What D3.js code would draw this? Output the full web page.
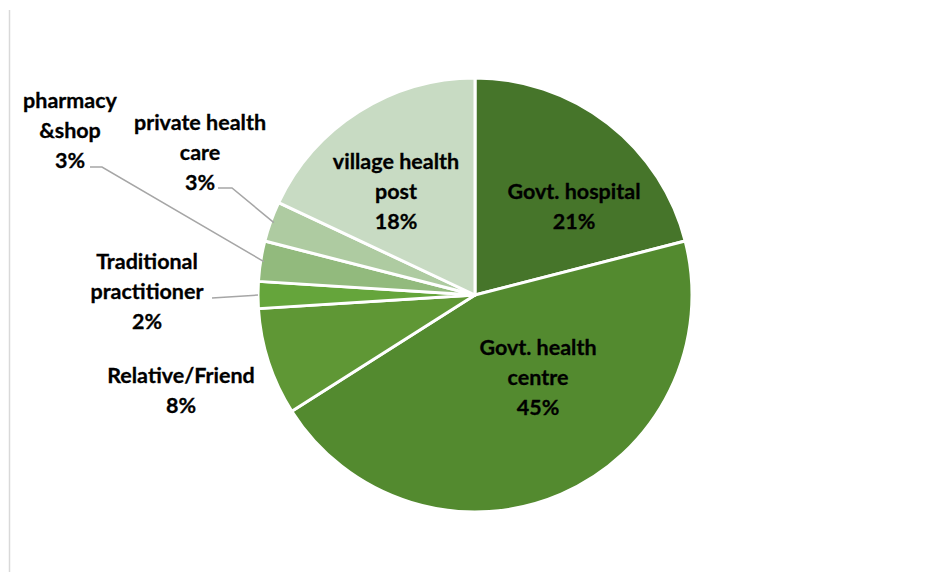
<!DOCTYPE html>
<html>
<head>
<meta charset="utf-8">
<script src="https://cdn.jsdelivr.net/npm/d3@7"></script>
<style>
  html, body { margin: 0; padding: 0; background: #fff; }
  svg text { font-family: Lato, "Open Sans", sans-serif; font-weight: 700; fill: #000; }
</style>
</head>
<body>
<svg id="chart" width="931" height="572"></svg>
<script>
// Source of care, share of respondents (%)
const categories = ["Govt. hospital", "Govt. health centre", "Relative/Friend",
  "Traditional practitioner", "pharmacy &shop", "private health care", "village health post"];
const values = [21, 45, 8, 2, 3, 3, 18];
const colors = ["#46752a", "#538a2f", "#5f9735", "#65a53b", "#92ba7d", "#aecba1", "#c8dbc3"];

// Label lines for each slice (text broken as displayed)
const labelLines = [
  ["Govt. hospital"],
  ["Govt. health", "centre"],
  ["Relative/Friend"],
  ["Traditional", "practitioner"],
  ["pharmacy", "&shop"],
  ["private health", "care"],
  ["village health", "post"]
];

const svg = d3.select("#chart");
const W = 931, H = 572;
const cx = 475, cy = 295, R = 217;

// Thin frame line on the left edge
svg.append("line")
  .attr("x1", 9.5).attr("x2", 9.5).attr("y1", 10).attr("y2", H)
  .attr("stroke", "#d9d9d9").attr("stroke-width", 1.5);

const data = categories.map((c, i) => ({ name: c, value: values[i], color: colors[i], lines: labelLines[i] }));

const pie = d3.pie().value(d => d.value).sort(null);
const arcs = pie(data);
const arc = d3.arc().innerRadius(0).outerRadius(R);

const g = svg.append("g").attr("transform", `translate(${cx},${cy})`);
g.selectAll("path").data(arcs).join("path")
  .attr("d", arc)
  .attr("fill", d => d.data.color)
  .attr("stroke", "#fff")
  .attr("stroke-width", 3)
  .attr("stroke-linejoin", "round");

// Label placement: inside slices for large shares, outside with leaders for small ones
const labelPos = [
  { x: 574, y: 192, inside: true },
  { x: 538, y: 348, inside: true },
  { x: 181, y: 376 },
  { x: 147, y: 262, leader: { r: 1.0, pts: [[212, 298]] } },
  { x: 70, y: 101, leader: { r: 0.985, pts: [[102, 167], [90, 167]] } },
  { x: 200, y: 123, leader: { r: 0.985, pts: [[232, 188], [218, 188]] } },
  { x: 396, y: 162, inside: true }
];

const lineH = 30;
arcs.forEach((a, i) => {
  const p = labelPos[i];
  const lines = a.data.lines.concat([a.data.value + "%"]);
  const t = svg.append("text")
    .attr("text-anchor", "middle")
    .attr("font-size", 21.5)
    .attr("stroke", "#000")
    .attr("stroke-width", 0.3);
  lines.forEach((ln, k) => {
    t.append("tspan").attr("x", p.x).attr("y", p.y + k * lineH + 7).text(ln);
  });
  if (p.leader) {
    const mid = (a.startAngle + a.endAngle) / 2;
    const ex = cx + Math.sin(mid) * R * p.leader.r;
    const ey = cy - Math.cos(mid) * R * p.leader.r;
    const pts = [[ex, ey]].concat(p.leader.pts);
    svg.append("path")
      .attr("d", d3.line()(pts))
      .attr("fill", "none")
      .attr("stroke", "#a6a6a6")
      .attr("stroke-width", 1.5);
  }
});
</script>
</body>
</html>
